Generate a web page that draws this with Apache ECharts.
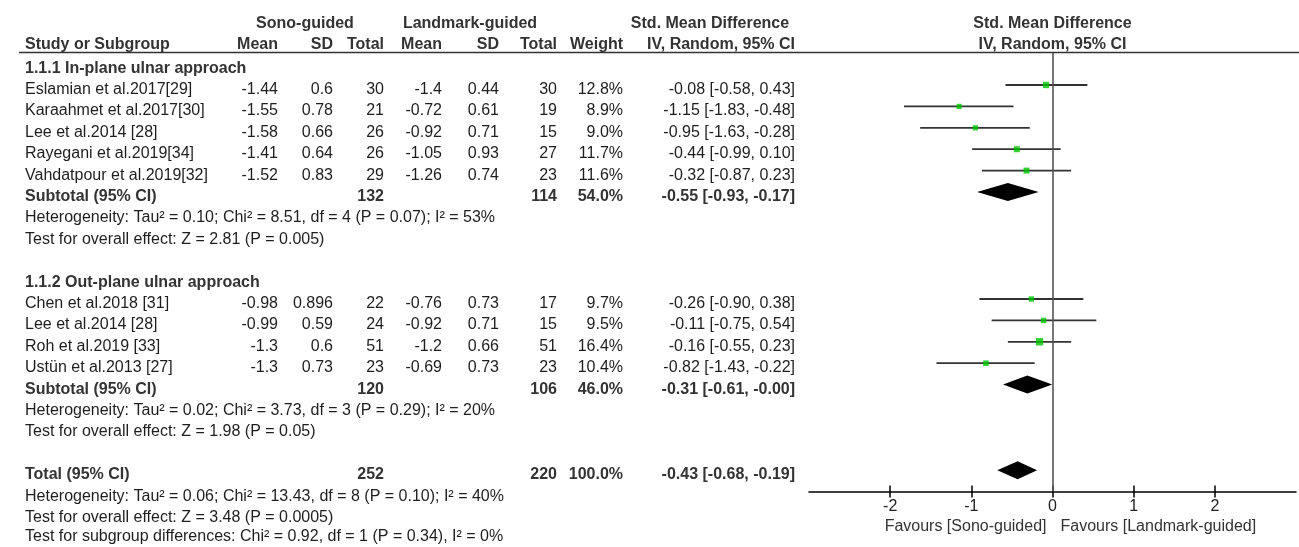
<!DOCTYPE html>
<html><head><meta charset="utf-8">
<script src="https://cdn.jsdelivr.net/npm/echarts@6/dist/echarts.min.js"></script>
<style>html,body{margin:0;padding:0;background:#fff}#c{width:1299px;height:547px}</style>
</head><body><div id="c"></div>
<script>
// ---------- data ----------
const studyNames = ["Eslamian et al.2017[29]","Karaahmet et al.2017[30]","Lee et al.2014 [28]","Rayegani et al.2019[34]","Vahdatpour et al.2019[32]",
  "Chen et al.2018 [31]","Lee et al.2014 [28]","Roh et al.2019 [33]","Ustün et al.2013 [27]"];
const sonoMean = [-1.44,-1.55,-1.58,-1.41,-1.52,-0.98,-0.99,-1.3,-1.3];
const sonoSD   = [0.6,0.78,0.66,0.64,0.83,0.896,0.59,0.6,0.73];
const sonoN    = [30,21,26,26,29,22,24,51,23];
const lmMean   = [-1.4,-0.72,-0.92,-1.05,-1.26,-0.76,-0.92,-1.2,-0.69];
const lmSD     = [0.44,0.61,0.71,0.93,0.74,0.73,0.71,0.66,0.73];
const lmN      = [30,19,15,27,23,17,15,51,23];
const weights  = [12.8,8.9,9.0,11.7,11.6,9.7,9.5,16.4,10.4];
const smd      = [-0.08,-1.15,-0.95,-0.44,-0.32,-0.26,-0.11,-0.16,-0.82];
const ciLow    = [-0.58,-1.83,-1.63,-0.99,-0.87,-0.90,-0.75,-0.55,-1.43];
const ciHigh   = [0.43,-0.48,-0.28,0.10,0.23,0.38,0.54,0.23,-0.22];

const groupNames   = ["1.1.1 In-plane ulnar approach","1.1.2 Out-plane ulnar approach"];
const pooledLabels = ["Subtotal (95% CI)","Subtotal (95% CI)","Total (95% CI)"];
const pooledSonoN  = [132,120,252];
const pooledLmN    = [114,106,220];
const pooledWeight = [54.0,46.0,100.0];
const pooledSmd    = [-0.55,-0.31,-0.43];
const pooledLow    = [-0.93,-0.61,-0.68];
const pooledHigh   = [-0.17,-0.003,-0.19];
const heterogeneity = [
  "Heterogeneity: Tau² = 0.10; Chi² = 8.51, df = 4 (P = 0.07); I² = 53%",
  "Heterogeneity: Tau² = 0.02; Chi² = 3.73, df = 3 (P = 0.29); I² = 20%",
  "Heterogeneity: Tau² = 0.06; Chi² = 13.43, df = 8 (P = 0.10); I² = 40%"];
const overallEffect = [
  "Test for overall effect: Z = 2.81 (P = 0.005)",
  "Test for overall effect: Z = 1.98 (P = 0.05)",
  "Test for overall effect: Z = 3.48 (P = 0.0005)"];
const subgroupTest = "Test for subgroup differences: Chi² = 0.92, df = 1 (P = 0.34), I² = 0%";
const xTicks = [-2,-1,0,1,2];
const favourLabels = ["Favours [Sono-guided]","Favours [Landmark-guided]"];
const headerTop = ["Sono-guided","Landmark-guided","Std. Mean Difference"];
const headerCols = ["Study or Subgroup","Mean","SD","Total","Mean","SD","Total","Weight","IV, Random, 95% CI"];

// ---------- layout (row slots) ----------
const studyRow  = [0,1,2,3,4,10,11,12,13];
const pooledRow = [5,14,18];
const groupRow  = [-1,9];
const hetRow    = [6,15,19];
const effRow    = [7,16,20];
const subgroupRow = 21;

const FONT = '16px "Liberation Sans", Arial, sans-serif';
const BFONT = 'bold 16px "Liberation Sans", Arial, sans-serif';
const TXT = '#1e1e1e', BTXT = '#333';

const chart = echarts.init(document.getElementById('c'), null, {renderer:'canvas'});

const ciData = studyNames.map((_, i) => [ciLow[i], ciHigh[i], studyRow[i]]);
const sqData = studyNames.map((_, i) => [smd[i], studyRow[i], weights[i]]);
const dmData = pooledSmd.map((v, i) => [pooledLow[i], v, pooledHigh[i], pooledRow[i]]);

chart.setOption({
  animation:false,
  backgroundColor:'#fff',
  grid:{left:809, right:3, top:52.9, height:438.7},
  xAxis:[{
    type:'value', min:-3, max:3, interval:1, position:'bottom',
    axisLine:{show:true, onZero:false, lineStyle:{color:'#000', width:1.5}},
    axisTick:{show:true, inside:false, length:6, customValues:xTicks, lineStyle:{color:'#000', width:1.5}},
    axisLabel:{show:true, customValues:xTicks, margin:7, color:'#222', fontSize:16, fontFamily:'"Liberation Sans", Arial, sans-serif'},
    splitLine:{show:false}
  },{
    type:'value', min:-3, max:3, interval:1, position:'bottom',
    axisLine:{show:false, onZero:false},
    axisTick:{show:true, inside:true, length:6, customValues:xTicks, lineStyle:{color:'#000', width:1.5}},
    axisLabel:{show:false}, splitLine:{show:false}
  }],
  yAxis:{type:'value', inverse:true, min:-1.5, max:19, show:false, splitLine:{show:false}},
  series:[
    {type:'custom', xAxisIndex:0, data:ciData, z:3,
     renderItem:(params, api) => {
       const y = api.value(2);
       const a = api.coord([api.value(0), y]), b = api.coord([api.value(1), y]);
       return {type:'line', shape:{x1:a[0], y1:a[1], x2:b[0], y2:b[1]}, style:{stroke:'#333', lineWidth:1.8}};
     }},
    {type:'scatter', xAxisIndex:0, data:sqData, symbol:'rect', z:4,
     symbolSize:v => 2.5 + v[2]*0.3, itemStyle:{color:'#00c400'},
     markLine:{silent:true, symbol:'none', label:{show:false}, lineStyle:{color:'#555', width:1.6, type:'solid'},
       data:[{xAxis:0}]}},
    {type:'custom', xAxisIndex:0, data:dmData, z:4,
     renderItem:(params, api) => {
       const y = api.value(3);
       const l = api.coord([api.value(0), y]), m = api.coord([api.value(1), y]), r = api.coord([api.value(2), y]);
       const h = 9;
       return {type:'polygon', shape:{points:[[l[0], l[1]],[m[0], m[1]-h],[r[0], r[1]],[m[0], m[1]+h]]}, style:{fill:'#000'}};
     }}
  ]
});

// ---------- table text ----------
const rowY = k => chart.convertToPixel({yAxisIndex:0}, k) + 4.5;
const x0 = chart.convertToPixel({xAxisIndex:0}, 0);
const g = [];
function t(text, x, y, align, bold, color){
  g.push({type:'text', x:x, y:y, silent:true,
    style:{text:String(text), font: bold ? BFONT : FONT, fill: color || (bold ? BTXT : TXT), align:align, verticalAlign:'middle'}});
}
const colRight = [null,278,333,384,442,499,557,623,795];
// headers
t(headerTop[0], 305, 24, 'center', true);
t(headerTop[1], 470, 24, 'center', true);
t(headerTop[2], 710, 24, 'center', true);
t(headerTop[2], x0, 24, 'center', true);
t(headerCols[0], 25, 45, 'left', true);
for (let c = 1; c < headerCols.length; c++) t(headerCols[c], colRight[c], 45, 'right', true);
t(headerCols[8], x0, 45, 'center', true);
g.push({type:'line', silent:true, shape:{x1:19, y1:52.5, x2:1299, y2:52.5}, style:{stroke:'#333', lineWidth:1.5}});

// groups
groupNames.forEach((n, i) => t(n, 25, rowY(groupRow[i]), 'left', true));
// studies
const f2 = v => v.toFixed(2);
studyNames.forEach((n, i) => {
  const y = rowY(studyRow[i]);
  t(n, 25, y, 'left');
  t(sonoMean[i], colRight[1], y, 'right');
  t(sonoSD[i], colRight[2], y, 'right');
  t(sonoN[i], colRight[3], y, 'right');
  t(lmMean[i], colRight[4], y, 'right');
  t(lmSD[i], colRight[5], y, 'right');
  t(lmN[i], colRight[6], y, 'right');
  t(weights[i].toFixed(1) + '%', colRight[7], y, 'right');
  t(f2(smd[i]) + ' [' + f2(ciLow[i]) + ', ' + f2(ciHigh[i]) + ']', colRight[8], y, 'right');
});
// pooled
pooledLabels.forEach((n, i) => {
  const y = rowY(pooledRow[i]);
  t(n, 25, y, 'left', true);
  t(pooledSonoN[i], colRight[3], y, 'right', true);
  t(pooledLmN[i], colRight[6], y, 'right', true);
  t(pooledWeight[i].toFixed(1) + '%', colRight[7], y, 'right', true);
  t(f2(pooledSmd[i]) + ' [' + f2(pooledLow[i]) + ', ' + f2(pooledHigh[i]) + ']', colRight[8], y, 'right', true);
  t(heterogeneity[i], 25, rowY(hetRow[i]), 'left');
  t(overallEffect[i], 25, rowY(effRow[i]), 'left');
});
t(subgroupTest, 25, rowY(subgroupRow) - 2, 'left');
// favours
t(favourLabels[0], x0 - 6, 526.5, 'right', false, '#333');
t(favourLabels[1], x0 + 8, 526.5, 'left', false, '#333');

chart.setOption({graphic:{elements:g}});
</script></body></html>
